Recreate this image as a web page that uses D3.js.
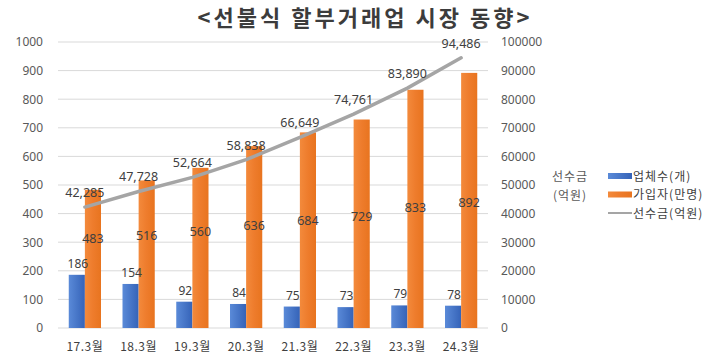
<!DOCTYPE html>
<html><head><meta charset="utf-8">
<script src="https://cdn.jsdelivr.net/npm/d3@7"></script>
<style>
html,body{margin:0;padding:0;background:#fff;}
svg{display:block;font-family:"Noto Sans CJK KR","Noto Sans",sans-serif;}
</style></head>
<body>
<svg id="chart" width="710" height="358"></svg>
<script>
const title = "<선불식 할부거래업 시장 동향>";
const categories = ["17.3월","18.3월","19.3월","20.3월","21.3월","22.3월","23.3월","24.3월"];
const companies = [186,154,92,84,75,73,79,78];          // 업체수(개)
const members = [483,516,560,636,684,729,833,892];      // 가입자(만명)
const prepaid = [42285,47728,52664,58838,66649,74761,83890,94486]; // 선수금(억원)
const leftTicks = [0,100,200,300,400,500,600,700,800,900,1000];
const rightTicks = [0,10000,20000,30000,40000,50000,60000,70000,80000,90000,100000];
const seriesNames = ["업체수(개)","가입자(만명)","선수금(억원)"];
const rightAxisTitle = ["선수금","(억원)"];

const svg = d3.select("#chart");
const m = {l:58, r:488, t:42, b:328};

const defs = svg.append("defs");
const gB = defs.append("linearGradient").attr("id","gBlue").attr("x1","0").attr("x2","1").attr("y1","0").attr("y2","0");
gB.append("stop").attr("offset","0%").attr("stop-color","#5a8ad8");
gB.append("stop").attr("offset","100%").attr("stop-color","#3563b8");
const gO = defs.append("linearGradient").attr("id","gOrange").attr("x1","0").attr("x2","1").attr("y1","0").attr("y2","0");
gO.append("stop").attr("offset","0%").attr("stop-color","#f38a3c");
gO.append("stop").attr("offset","50%").attr("stop-color","#ee7c2c");
gO.append("stop").attr("offset","100%").attr("stop-color","#e8741f");

const x0 = d3.scaleBand().domain(categories).range([m.l, m.r]).paddingInner(0.4).paddingOuter(0.2);
const x1 = d3.scaleBand().domain(["a","b"]).range([0, x0.bandwidth()]);
const yL = d3.scaleLinear().domain([0,1000]).range([m.b, m.t]);
const yR = d3.scaleLinear().domain([0,100000]).range([m.b, m.t]);

// title
svg.append("text").attr("x",365).attr("y",26).attr("text-anchor","middle")
  .attr("font-size",22).attr("font-weight","bold").attr("letter-spacing",3)
  .attr("fill","#3c3c3c").text(title);

// gridlines
svg.append("g").selectAll("line").data(leftTicks).join("line")
  .attr("x1",m.l).attr("x2",m.r).attr("y1",d=>yL(d)).attr("y2",d=>yL(d))
  .attr("stroke","#d9d9d9").attr("stroke-width",1);

// left axis
const axL = svg.append("g").attr("transform",`translate(${m.l-4},0)`)
  .call(d3.axisLeft(yL).tickValues(leftTicks).tickSize(0).tickPadding(11).tickFormat(d3.format("d")));
axL.select(".domain").remove();
axL.selectAll("text").attr("font-size",12).attr("fill","#595959").attr("font-family","'Noto Sans',sans-serif");

// right axis
const axR = svg.append("g").attr("transform",`translate(${m.r},0)`)
  .call(d3.axisRight(yR).tickValues(rightTicks).tickSize(0).tickPadding(13).tickFormat(d3.format("d")));
axR.select(".domain").remove();
axR.selectAll("text").attr("font-size",12).attr("fill","#595959").attr("font-family","'Noto Sans',sans-serif");

// x axis labels
svg.append("g").selectAll("text").data(categories).join("text")
  .attr("x",d=>x0(d)+x0.bandwidth()/2).attr("y",351).attr("text-anchor","middle")
  .attr("font-size",12).attr("letter-spacing",0.5).attr("fill","#404040").text(d=>d);

// bars
const g = svg.append("g");
g.selectAll("rect.b").data(companies).join("rect").attr("class","b")
  .attr("x",(d,i)=>x0(categories[i])+x1("a")).attr("width",x1.bandwidth())
  .attr("y",d=>yL(d)).attr("height",d=>yL(0)-yL(d)).attr("fill","url(#gBlue)");
g.selectAll("rect.o").data(members).join("rect").attr("class","o")
  .attr("x",(d,i)=>x0(categories[i])+x1("b")).attr("width",x1.bandwidth())
  .attr("y",d=>yL(d)).attr("height",d=>yL(0)-yL(d)).attr("fill","url(#gOrange)");

// bar labels
g.selectAll("text.bl").data(companies).join("text").attr("class","bl")
  .attr("x",(d,i)=>x0(categories[i])+x1("a")+x1.bandwidth()/2+1).attr("y",d=>yL(d)-7)
  .attr("text-anchor","middle").attr("font-size",12).attr("fill","#404040")
  .attr("font-family","'Noto Sans',sans-serif").text(d=>d);
g.selectAll("text.ol").data(members).join("text").attr("class","ol")
  .attr("x",(d,i)=>x0(categories[i])+x1("b")+x1.bandwidth()/2).attr("y",d=>yL(166+0.308*d)+5)
  .attr("text-anchor","middle").attr("font-size",12.5).attr("fill","#404040")
  .attr("font-family","'Noto Sans',sans-serif").text(d=>d);

// line
const line = d3.line().x((d,i)=>x0(categories[i])+x0.bandwidth()/2).y(d=>yR(d));
svg.append("path").datum(prepaid).attr("d",line).attr("fill","none")
  .attr("stroke","#a5a5a5").attr("stroke-width",3.5).attr("stroke-linecap","round");
svg.append("g").selectAll("text").data(prepaid).join("text")
  .attr("x",(d,i)=>x0(categories[i])+x0.bandwidth()/2).attr("y",d=>yR(d)-10)
  .attr("text-anchor","middle").attr("font-size",12.5).attr("fill","#404040")
  .attr("font-family","'Noto Sans',sans-serif").text(d=>d3.format(",")(d));

// right axis title
svg.append("g").selectAll("text").data(rightAxisTitle).join("text")
  .attr("x",570).attr("y",(d,i)=>181+i*19).attr("text-anchor","middle")
  .attr("font-size",12).attr("letter-spacing",1).attr("fill","#595959").text(d=>d);

// legend
const lg = svg.append("g").attr("transform","translate(608,176)");
const items = lg.selectAll("g").data(seriesNames).join("g").attr("transform",(d,i)=>`translate(0,${i*18.5})`);
items.each(function(d,i){
  const s = d3.select(this);
  if(i<2){
    s.append("rect").attr("x",0).attr("y",-3).attr("width",24).attr("height",6)
      .attr("fill",i===0?"url(#gBlue)":"url(#gOrange)");
  } else {
    s.append("line").attr("x1",0).attr("x2",24).attr("y1",0).attr("y2",0)
      .attr("stroke","#a5a5a5").attr("stroke-width",2);
  }
  s.append("text").attr("x",25).attr("y",4.5).attr("font-size",12).attr("letter-spacing",1)
    .attr("fill","#404040").text(d);
});
</script>
</body></html>
